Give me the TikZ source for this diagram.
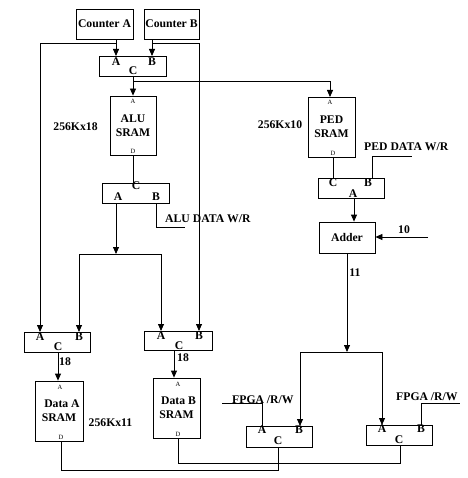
\documentclass[tikz,border=0pt]{standalone}
\usepackage{fontspec}
\setmainfont{Liberation Serif}
\usetikzlibrary{positioning,calc,arrows.meta}
\tikzstyle{l2}=[line width=0.8]
\tikzstyle{box}=[draw=black, l2, inner sep=0pt, align=center, font=\bfseries\fontsize{11.7}{14}\selectfont]
\tikzstyle{mux}=[box, minimum width=66pt, minimum height=20pt]
\tikzstyle{sram}=[box, minimum width=47pt, minimum height=60pt]
\tikzstyle{port}=[inner sep=0pt, font=\bfseries\fontsize{11.7}{12}\selectfont]
\tikzstyle{pin}=[inner sep=0pt, font=\fontsize{6.5}{7}\selectfont]
\tikzstyle{lbl}=[inner sep=0pt, font=\bfseries\fontsize{11.7}{13}\selectfont]
\tikzstyle{wire}=[l2]
\tikzstyle{sig}=[l2, -{Triangle[width=6pt,length=7pt]}]

\begin{document}
\begin{tikzpicture}[x=1pt, y=-1pt]
    \useasboundingbox (0,0) rectangle (467,478);

    \node[box, minimum width=57pt, minimum height=30pt] (cntA) at (104.5,24) {Counter A};
    \node[box, minimum width=55pt, minimum height=30pt] (cntB) at (171.5,24) {Counter B};
    \node[mux, minimum width=67pt] (mtop) at (132.5,66) {};
    \node[sram, minimum width=46pt, minimum height=59pt] (alu) at (133,125.5) {ALU\\SRAM};
    \node[sram] (ped) at (331.5,127) {PED\\SRAM};
    \node[mux, minimum width=67pt] (malu) at (135.5,193) {};
    \node[mux] (mped) at (351,188) {};
    \node[box, minimum width=56pt, minimum height=31pt] (add) at (347,237.5) {Adder};
    \node[mux] (mDA) at (57,342) {};
    \node[mux, minimum width=68pt, minimum height=19pt] (mDB) at (178,340.5) {};
    \node[sram, minimum width=48pt] (dA) at (59,411) {\hspace*{6pt}Data A\\SRAM};
    \node[sram] (dB) at (176.5,408) {\hspace*{4pt}Data B\\SRAM};
    \node[mux, minimum height=21pt] (mF1) at (279,436.5) {};
    \node[mux] (mF2) at (399,435) {};

    \node[lbl] (szA) at (75.5,127) {256Kx18};
    \node[lbl] (szP) at (280,125) {256Kx10};
    \node[lbl] (szD) at (110.5,423) {256Kx11};

    \foreach \t/\x/\y [count=\k] in {A/116/62, B/152/62, C/133/71,
            C/136/186, A/118/197, B/156/197,
            C/333/183, B/368/183, A/353/194,
            A/40/337, B/79/337, C/58/347,
            A/161/336, B/199/336, C/179/346,
            A/262/430, B/299/430, C/278/441,
            A/382/429, B/421/429, C/399/440}{
            \node[port] (pl\k) at (\x,\y) {\t};
        }
    \foreach \t/\x/\y [count=\k] in {A/133/101, D/133/151, A/330/102, D/333/153,
            A/60/387, D/61/437, A/178/384, D/178/434}{
            \node[pin] (pn\k) at (\x,\y) {\t};
        }

    \coordinate (mtA) at (116,56);  \coordinate (mtB) at (152,56);  \coordinate (mtC) at (133,76);
    \coordinate (maA) at (116,203); \coordinate (maB) at (156,203);
    \coordinate (mpA) at (354,198); \coordinate (mpB) at (372,178);
    \coordinate (daA) at (40,332);  \coordinate (daB) at (79,332);  \coordinate (daC) at (58,352);
    \coordinate (dbA) at (161,331); \coordinate (dbB) at (199,331); \coordinate (dbC) at (174,350);
    \coordinate (f1A) at (262,426); \coordinate (f1B) at (300,426); \coordinate (f1C) at (278,447);
    \coordinate (f2A) at (382,425); \coordinate (f2B) at (421,425); \coordinate (f2C) at (400,445);

    \draw[sig] (mtA |- cntA.south) -- (mtA);
    \draw[sig] (mtB |- cntB.south) -- (mtB);
    \draw[sig] (mtA |- 0,43) -- (daA |- 0,43) -- (daA);
    \draw[sig] (mtB |- 0,43) -- (dbB |- 0,43) -- (dbB);

    \draw[sig] (mtC) -- (mtC |- alu.north);
    \draw[sig] (mtC |- 0,81) -- (330,81) -- (330,97);
    \draw[wire] (alu.south) -- (alu.south |- malu.north);

    \coordinate (split1) at (116,254);
    \draw[sig] (maA) -- (split1);
    \draw[wire] (split1 -| daB) -- (split1 -| dbA);
    \draw[sig] (split1 -| daB) -- (daB);
    \draw[sig] (split1 -| dbA) -- (dbA);

    \coordinate (aluw) at (185,227);
    \draw[wire] (maB) |- (aluw);
    \node[lbl, anchor=base west] (aluwr) at (165,222.5) {ALU DATA W/R};

    \draw[wire] (333,157) -- (333,178);
    \coordinate (pedw) at (412,156);
    \draw[wire] (mpB) |- (pedw);
    \node[lbl, anchor=base west] (pedwr) at (364,151) {PED DATA W/R};
    \draw[sig] (mpA) -- (mpA |- add.north);

    \coordinate (in10) at (428,237);
    \draw[sig] (in10) -- (add.east |- in10);
    \node[lbl] (n10) at (404,230) {10};

    \coordinate (split2) at (347,352);
    \draw[sig] (add.south) -- (split2);
    \node[lbl] (n11) at (355,273) {11};
    \draw[wire] (split2 -| f1B) -- (split2 -| f2A);
    \draw[sig] (split2 -| f1B) -- (f1B);
    \draw[sig] (split2 -| f2A) -- (f2A);

    \coordinate (fw1) at (222,403);
    \draw[wire] (fw1) -| (f1A);
    \node[lbl, anchor=base west] (fpga1) at (232,403) {FPGA /R/W};
    \coordinate (fw2) at (460,403);
    \draw[wire] (f2B) |- (fw2);
    \node[lbl, anchor=base west] (fpga2) at (396,400) {FPGA /R/W};

    \draw[sig] (daC) -- (daC |- dA.north);
    \node[lbl] (n18a) at (65,362) {18};
    \draw[sig] (dbC) -- (dbC |- dB.north);
    \node[lbl] (n18b) at (183,358) {18};

    \draw[wire] (61,441) |- (f1C |- 0,470) -- (f1C);
    \draw[wire] (178,438) |- (f2C |- 0,463) -- (f2C);

\end{tikzpicture}
\end{document}
